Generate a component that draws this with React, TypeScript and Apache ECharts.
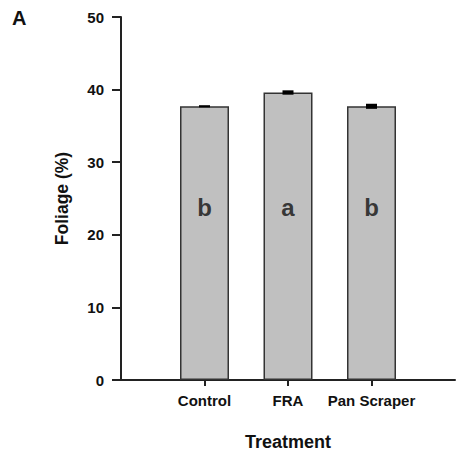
import React, { useEffect, useRef } from "react";
import * as echarts from "echarts";

const categories = ["", "Control", "FRA", "Pan Scraper", ""];
const treatments = ["Control", "FRA", "Pan Scraper"];
const foliage = [37.7, 39.6, 37.7];
const errors = [0.15, 0.3, 0.35];
const letters = ["b", "a", "b"];
const yTicks = [0, 10, 20, 30, 40, 50];

const FONT = "'Liberation Sans', Arial, sans-serif";

export default function App() {
  const ref = useRef<HTMLDivElement>(null);
  useEffect(() => {
    if (!ref.current) return;
    const chart = echarts.init(ref.current, null, { renderer: "svg" });
    const letterY = 23.8;
    chart.setOption({
      animation: false,
      graphic: [
        {
          type: "text",
          left: 12,
          top: 8,
          style: { text: "A", font: `bold 20px ${FONT}`, fill: "#111" },
        },
      ],
      grid: { left: 121, right: 0, top: 17, bottom: 77 },
      xAxis: {
        type: "category",
        data: categories,
        boundaryGap: false,
        name: "Treatment",
        nameLocation: "middle",
        nameGap: 53,
        nameTextStyle: { fontFamily: FONT, fontWeight: "bold", fontSize: 18, color: "#111", verticalAlign: "top" },
        axisLine: { lineStyle: { color: "#222", width: 2 } },
        axisTick: {
          show: true,
          length: 6,
          inside: false,
          interval: (idx: number) => idx >= 1 && idx <= 3,
          lineStyle: { color: "#222", width: 2 },
        },
        axisLabel: {
          interval: 0,
          margin: 13,
          fontFamily: FONT,
          fontWeight: "bold",
          fontSize: 15,
          color: "#111",
        },
        splitLine: { show: false },
      },
      yAxis: {
        type: "value",
        min: 0,
        max: 50,
        interval: 10,
        name: "Foliage (%)",
        nameLocation: "middle",
        nameGap: 50,
        nameTextStyle: { fontFamily: FONT, fontWeight: "bold", fontSize: 17.5, color: "#111" },
        axisLine: { show: true, lineStyle: { color: "#222", width: 2 } },
        axisTick: { show: true, length: 9, lineStyle: { color: "#222", width: 2 } },
        axisLabel: {
          margin: 17,
          fontFamily: FONT,
          fontWeight: "bold",
          fontSize: 15,
          color: "#111",
          formatter: (v: number) => (yTicks.includes(v) ? String(v) : ""),
        },
        splitLine: { show: false },
      },
      series: [
        {
          type: "bar",
          data: treatments.map((t, i) => [t, foliage[i]]),
          barWidth: 49,
          itemStyle: { color: "#c0c0c0", borderColor: "#333", borderWidth: 1.5 },
          z: 2,
        },
        {
          type: "custom",
          data: treatments.map((t, i) => [t, foliage[i], errors[i]]),
          renderItem: (params: any, api: any) => {
            const x = api.coord([api.value(0), 0])[0];
            const v = api.value(1);
            const e = api.value(2);
            const top = api.coord([api.value(0), v + e])[1];
            const bot = api.coord([api.value(0), v - e])[1];
            const h = Math.max(bot - top, 2);
            return {
              type: "rect",
              shape: { x: x - 5.5, y: (top + bot) / 2 - h / 2, width: 11, height: h },
              style: { fill: "#000" },
            };
          },
          z: 5,
        },
        {
          type: "scatter",
          data: treatments.map((t) => [t, letterY]),
          symbolSize: 0,
          label: {
            show: true,
            position: "inside",
            formatter: (p: any) => letters[p.dataIndex],
            fontFamily: FONT,
            fontWeight: "bold",
            fontSize: 24,
            color: "#111",
          },
          z: 6,
        },
      ],
    });
    return () => chart.dispose();
  }, []);
  return (
    <div
      ref={ref}
      style={{ position: "absolute", left: 0, top: 0, width: 458, height: 457, overflow: "hidden" }}
    />
  );
}
